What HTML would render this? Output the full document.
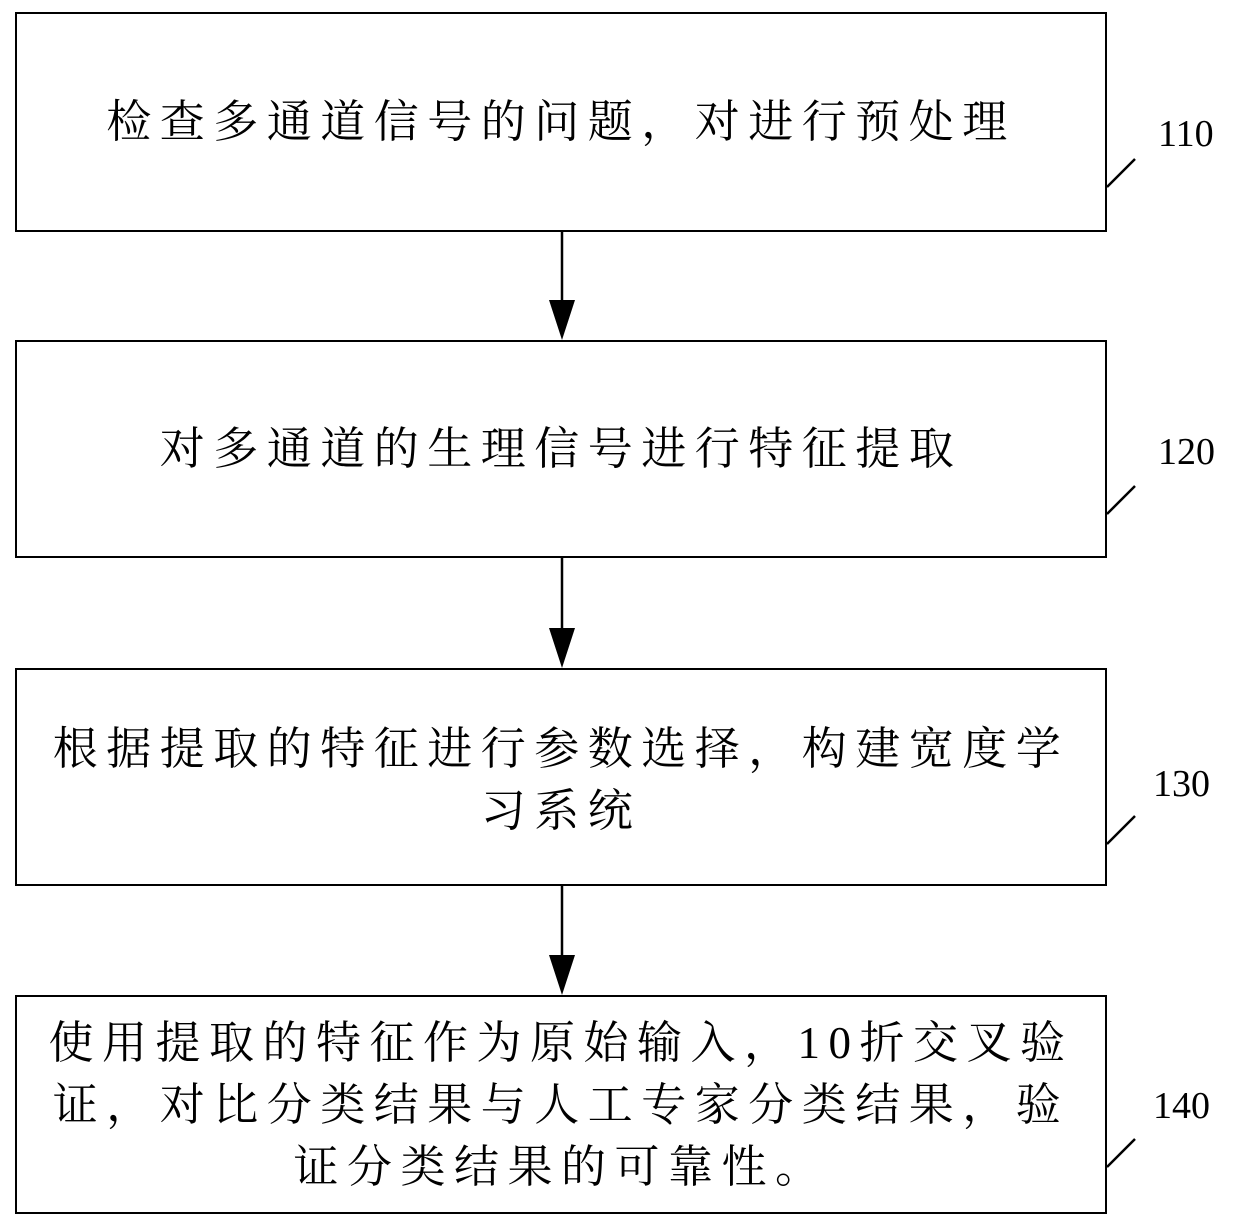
<!DOCTYPE html>
<html><head><meta charset="utf-8"><style>
body{margin:0;background:#fff;width:1240px;height:1228px;position:relative;overflow:hidden}
.b{position:absolute;left:15px;width:1088px;border:2px solid #000;box-sizing:content-box;display:flex;align-items:center;justify-content:center;text-align:center;font-family:"Liberation Serif","Noto Serif CJK SC",serif;font-size:45px;letter-spacing:8.5px;line-height:62px;color:#000}
.n{position:absolute;font-family:"Liberation Serif",serif;font-size:38px;color:#000}
</style></head><body>
<div class="b" style="top:12px;height:216px">检查多通道信号的问题，对进行预处理</div>
<div class="b" style="top:340px;height:214px">对多通道的生理信号进行特征提取</div>
<div class="b" style="top:668px;height:214px;padding-top:6px;height:208px">根据提取的特征进行参数选择，构建宽度学<br>习系统</div>
<div class="b" style="top:995px;height:215px">使用提取的特征作为原始输入，10折交叉验<br>证，对比分类结果与人工专家分类结果，验<br>证分类结果的可靠性。</div>
<div class="n" style="left:1158px;top:112px">110</div>
<div class="n" style="left:1158px;top:430px">120</div>
<div class="n" style="left:1153px;top:762px">130</div>
<div class="n" style="left:1153px;top:1084px">140</div>
<svg width="1240" height="1228" style="position:absolute;left:0;top:0">
<g stroke="#000" stroke-width="2.5" fill="none">
<line x1="1107" y1="187" x2="1135" y2="159"/>
<line x1="1107" y1="514" x2="1135" y2="486"/>
<line x1="1107" y1="844" x2="1135" y2="816"/>
<line x1="1107" y1="1167" x2="1135" y2="1139"/>
<line x1="562" y1="231" x2="562" y2="305"/>
<line x1="562" y1="558" x2="562" y2="632"/>
<line x1="562" y1="886" x2="562" y2="960"/>
</g>
<g fill="#000">
<polygon points="549,300 575,300 562,340"/>
<polygon points="549,628 575,628 562,668"/>
<polygon points="549,955 575,955 562,995"/>
</g>
</svg>
</body></html>
